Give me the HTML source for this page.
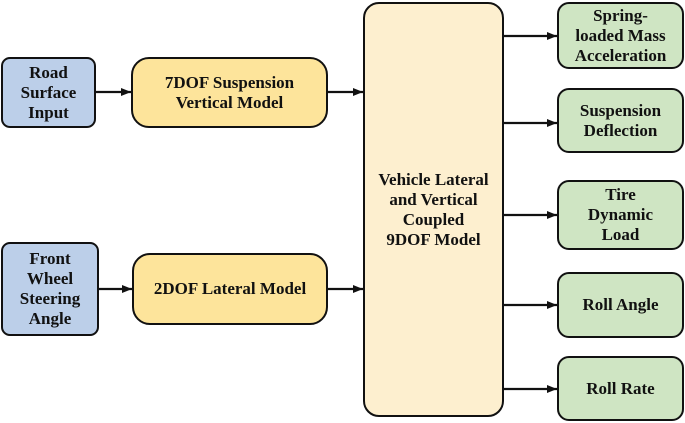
<!DOCTYPE html>
<html><head><style>
body{margin:0;width:685px;height:423px;background:#fff;position:relative;overflow:hidden;font-family:"Liberation Serif",serif;font-weight:bold;color:#111}
.b{position:absolute;box-sizing:border-box;border:2.5px solid #111;display:flex;align-items:center;justify-content:center;text-align:center;font-size:17px;line-height:20px}
.bl{background:#bccfe9;border-radius:9px}
.y{background:#fde49b;border-radius:18px}
.g{background:#cfe5c3;border-radius:12px}
</style></head><body>
<div class="b bl" style="left:1px;top:57px;width:95px;height:71px">Road<br>Surface<br>Input</div>
<div class="b y" style="left:131px;top:57px;width:197px;height:71px">7DOF Suspension<br>Vertical Model</div>
<div class="b bl" style="left:1px;top:242px;width:98px;height:94px">Front<br>Wheel<br>Steering<br>Angle</div>
<div class="b y" style="left:132px;top:253px;width:196px;height:72px">2DOF Lateral Model</div>
<div class="b" style="left:363px;top:2px;width:141px;height:415px;background:#fdefcf;border-radius:16px">Vehicle Lateral<br>and Vertical<br>Coupled<br>9DOF Model</div>
<div class="b g" style="left:557px;top:2px;width:127px;height:67px">Spring-<br>loaded Mass<br>Acceleration</div>
<div class="b g" style="left:557px;top:88px;width:127px;height:65px">Suspension<br>Deflection</div>
<div class="b g" style="left:557px;top:180px;width:127px;height:70px">Tire<br>Dynamic<br>Load</div>
<div class="b g" style="left:557px;top:272px;width:127px;height:66px">Roll Angle</div>
<div class="b g" style="left:557px;top:356px;width:127px;height:65px">Roll Rate</div>
<svg width="685" height="423" style="position:absolute;left:0;top:0">
<defs><marker id="a" markerWidth="10" markerHeight="8" refX="10" refY="4" orient="auto" markerUnits="userSpaceOnUse"><path d="M0,0 L10,4 L0,8z" fill="#111"/></marker></defs>
<g stroke="#111" stroke-width="2.2" marker-end="url(#a)">
<line x1="96" y1="92" x2="131" y2="92"/>
<line x1="328" y1="92" x2="363" y2="92"/>
<line x1="99" y1="289" x2="132" y2="289"/>
<line x1="328" y1="289" x2="363" y2="289"/>
<line x1="504" y1="36" x2="557" y2="36"/>
<line x1="504" y1="123" x2="557" y2="123"/>
<line x1="504" y1="215" x2="557" y2="215"/>
<line x1="504" y1="305" x2="557" y2="305"/>
<line x1="504" y1="389" x2="557" y2="389"/>
</g></svg>
</body></html>
